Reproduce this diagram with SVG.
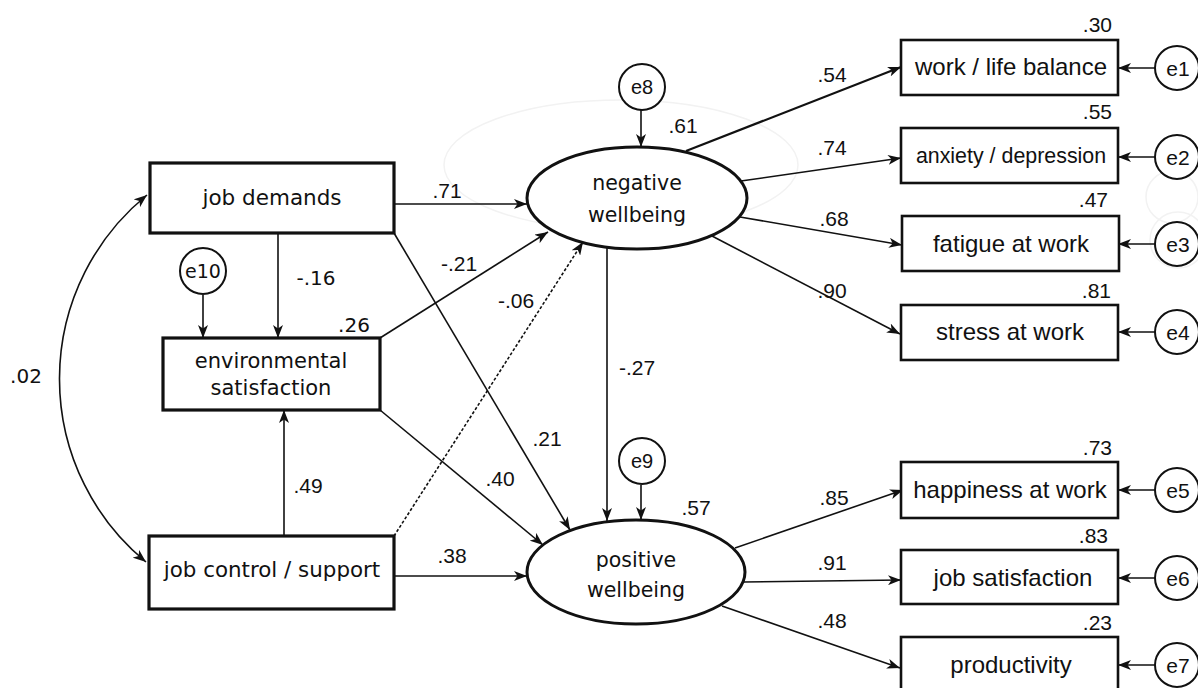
<svg xmlns="http://www.w3.org/2000/svg" width="1198" height="688" viewBox="0 0 1198 688">
<style>
.bx{fill:#fff;stroke:#111;stroke-width:3.2}
.bxr{fill:#fff;stroke:#111;stroke-width:2.6}
.lat{fill:#fff;stroke:#111;stroke-width:3}
.err{fill:#fff;stroke:#111;stroke-width:2}
.ln{fill:none;stroke:#111;stroke-width:1.6;marker-end:url(#ah)}
.dj{font-family:"DejaVu Sans",Verdana,sans-serif;fill:#111}
.ar{font-family:"Liberation Sans",Arial,sans-serif;fill:#111}
.faint{fill:none;stroke:#f2f2f2;stroke-width:1.5}
</style>
<defs>
<marker id="ah" markerUnits="userSpaceOnUse" markerWidth="14" markerHeight="10" refX="13" refY="5" orient="auto-start-reverse">
<path d="M0,0 L13,5 L0,10 L3.5,5 z" fill="#111"/>
</marker>
</defs>
<rect width="1198" height="688" fill="#fff"/>
<g id="faint">
<ellipse class="faint" cx="621" cy="165" rx="177" ry="65"/>
<circle class="faint" cx="1172" cy="197" r="26"/>
<circle class="faint" cx="1178" cy="240" r="28"/>
</g>
<g id="connectors">
<path class="ln" d="M147,195 A237,237 0 0 0 146,562" style="marker-start:url(#ah)"/>
<line class="ln" x1="278" y1="233" x2="278" y2="338"/>
<line class="ln" x1="203" y1="295" x2="203" y2="338"/>
<line class="ln" x1="284" y1="536" x2="284" y2="410"/>
<line class="ln" x1="394" y1="204" x2="527" y2="204"/>
<line class="ln" x1="380" y1="338" x2="548" y2="232"/>
<line class="ln" x1="394" y1="536" x2="583" y2="242" style="stroke-dasharray:3,2"/>
<line class="ln" x1="394" y1="233" x2="570" y2="530"/>
<line class="ln" x1="380" y1="410" x2="543" y2="545"/>
<line class="ln" x1="394" y1="576" x2="527" y2="576"/>
<line class="ln" x1="607" y1="248" x2="607" y2="521"/>
<line class="ln" x1="641" y1="110" x2="641" y2="147"/>
<line class="ln" x1="641" y1="485" x2="641" y2="520"/>
<line class="ln" x1="686" y1="151" x2="901" y2="67" style="stroke-width:2.2"/>
<line class="ln" x1="741" y1="181" x2="901" y2="158"/>
<line class="ln" x1="740" y1="217" x2="902" y2="245"/>
<line class="ln" x1="712" y1="236" x2="900" y2="334"/>
<line class="ln" x1="735" y1="548" x2="903" y2="490"/>
<line class="ln" x1="743" y1="582" x2="901" y2="580"/>
<line class="ln" x1="722" y1="606" x2="900" y2="668"/>
<line class="ln" x1="1155" y1="68" x2="1118" y2="68"/>
<line class="ln" x1="1155" y1="157" x2="1118" y2="157"/>
<line class="ln" x1="1155" y1="244" x2="1118" y2="244"/>
<line class="ln" x1="1155" y1="332" x2="1118" y2="332"/>
<line class="ln" x1="1155" y1="490" x2="1118" y2="490"/>
<line class="ln" x1="1155" y1="578" x2="1118" y2="578"/>
<line class="ln" x1="1155" y1="665" x2="1118" y2="665"/>
</g>
<g id="labels">
<text class="dj" x="26" y="383" font-size="20" text-anchor="middle">.02</text>
<text class="dj" x="316" y="285" font-size="20" text-anchor="middle">-.16</text>
<text class="dj" x="354" y="332" font-size="20" text-anchor="middle">.26</text>
<text class="ar" x="308" y="493" font-size="21" text-anchor="middle">.49</text>
<text class="ar" x="447" y="198" font-size="21" text-anchor="middle">.71</text>
<text class="ar" x="459" y="271" font-size="21" text-anchor="middle">-.21</text>
<text class="ar" x="516" y="308" font-size="21" text-anchor="middle">-.06</text>
<text class="ar" x="547" y="446" font-size="21" text-anchor="middle">.21</text>
<text class="ar" x="500" y="486" font-size="21" text-anchor="middle">.40</text>
<text class="ar" x="452" y="563" font-size="21" text-anchor="middle">.38</text>
<text class="ar" x="637" y="375" font-size="21" text-anchor="middle">-.27</text>
<text class="ar" x="696" y="515" font-size="21" text-anchor="middle">.57</text>
<text class="ar" x="683" y="133" font-size="21" text-anchor="middle">.61</text>
<text class="ar" x="832" y="82" font-size="21" text-anchor="middle">.54</text>
<text class="ar" x="832" y="155" font-size="21" text-anchor="middle">.74</text>
<text class="ar" x="834" y="226" font-size="21" text-anchor="middle">.68</text>
<text class="ar" x="832" y="298" font-size="21" text-anchor="middle">.90</text>
<text class="ar" x="834" y="505" font-size="21" text-anchor="middle">.85</text>
<text class="ar" x="832" y="570" font-size="21" text-anchor="middle">.91</text>
<text class="ar" x="832" y="628" font-size="21" text-anchor="middle">.48</text>
<text class="ar" x="1112" y="32" font-size="21" text-anchor="end">.30</text>
<text class="ar" x="1112" y="119" font-size="21" text-anchor="end">.55</text>
<text class="ar" x="1108" y="207" font-size="21" text-anchor="end">.47</text>
<text class="ar" x="1111" y="298" font-size="21" text-anchor="end">.81</text>
<text class="ar" x="1112" y="455" font-size="21" text-anchor="end">.73</text>
<text class="ar" x="1108" y="543" font-size="21" text-anchor="end">.83</text>
<text class="ar" x="1112" y="630" font-size="21" text-anchor="end">.23</text>
</g>
<g id="job-demands">
<rect class="bx" x="150" y="163" width="244" height="70"/>
<text class="dj" x="272" y="205" font-size="21.5" text-anchor="middle">job demands</text>
</g>
<g id="environmental-satisfaction">
<rect class="bx" x="163" y="338" width="217" height="72"/>
<text class="dj" x="271" y="368" font-size="21" text-anchor="middle">environmental</text>
<text class="dj" x="271" y="395" font-size="21" text-anchor="middle">satisfaction</text>
</g>
<g id="job-control-support">
<rect class="bx" x="149" y="536" width="245" height="73"/>
<text class="dj" x="272" y="577" font-size="21.4" text-anchor="middle">job control / support</text>
</g>
<g id="e10">
<circle class="err" cx="203" cy="271" r="23"/>
<text class="dj" x="203" y="278" font-size="19" text-anchor="middle">e10</text>
</g>
<g id="negative-wellbeing">
<ellipse class="lat" cx="637" cy="198" rx="110" ry="51"/>
<text class="dj" x="637" y="190" font-size="20.5" text-anchor="middle">negative</text>
<text class="dj" x="637" y="222" font-size="20.5" text-anchor="middle">wellbeing</text>
</g>
<g id="positive-wellbeing">
<ellipse class="lat" cx="636" cy="572" rx="109" ry="52"/>
<text class="dj" x="636" y="567" font-size="20.5" text-anchor="middle">positive</text>
<text class="dj" x="636" y="597" font-size="20.5" text-anchor="middle">wellbeing</text>
</g>
<g id="e8">
<circle class="err" cx="642" cy="87" r="23"/>
<text class="ar" x="642" y="94" font-size="20" text-anchor="middle">e8</text>
</g>
<g id="e9">
<circle class="err" cx="642" cy="461" r="23"/>
<text class="ar" x="642" y="468" font-size="20" text-anchor="middle">e9</text>
</g>
<g id="work-life-balance">
<rect class="bxr" x="901" y="40" width="217" height="55"/>
<text class="ar" x="1011" y="75" font-size="24" text-anchor="middle">work / life balance</text>
</g>
<g id="anxiety-depression">
<rect class="bxr" x="901" y="128" width="217" height="55"/>
<text class="ar" x="1011" y="163" font-size="21.4" text-anchor="middle">anxiety / depression</text>
</g>
<g id="fatigue-at-work">
<rect class="bxr" x="902" y="216" width="217" height="55"/>
<text class="ar" x="1011" y="252" font-size="24" text-anchor="middle">fatigue at work</text>
</g>
<g id="stress-at-work">
<rect class="bxr" x="901" y="305" width="217" height="55"/>
<text class="ar" x="1010" y="340" font-size="24" text-anchor="middle">stress at work</text>
</g>
<g id="happiness-at-work">
<rect class="bxr" x="901" y="462" width="217" height="56"/>
<text class="ar" x="1010" y="498" font-size="24" text-anchor="middle">happiness at work</text>
</g>
<g id="job-satisfaction">
<rect class="bxr" x="901" y="550" width="217" height="54"/>
<text class="ar" x="1013" y="586" font-size="24" text-anchor="middle">job satisfaction</text>
</g>
<g id="productivity">
<rect class="bxr" x="901" y="637" width="217" height="56"/>
<text class="ar" x="1011" y="673" font-size="24" text-anchor="middle">productivity</text>
</g>
<g id="e1"><circle class="err" cx="1177" cy="68" r="22"/><text class="ar" x="1178" y="76" font-size="21" text-anchor="middle">e1</text></g>
<g id="e2"><circle class="err" cx="1177" cy="157" r="22"/><text class="ar" x="1178" y="165" font-size="21" text-anchor="middle">e2</text></g>
<g id="e3"><circle class="err" cx="1177" cy="244" r="22"/><text class="ar" x="1178" y="252" font-size="21" text-anchor="middle">e3</text></g>
<g id="e4"><circle class="err" cx="1177" cy="332" r="22"/><text class="ar" x="1178" y="340" font-size="21" text-anchor="middle">e4</text></g>
<g id="e5"><circle class="err" cx="1177" cy="490" r="22"/><text class="ar" x="1178" y="498" font-size="21" text-anchor="middle">e5</text></g>
<g id="e6"><circle class="err" cx="1177" cy="578" r="22"/><text class="ar" x="1178" y="586" font-size="21" text-anchor="middle">e6</text></g>
<g id="e7"><circle class="err" cx="1177" cy="665" r="22"/><text class="ar" x="1178" y="673" font-size="21" text-anchor="middle">e7</text></g>
</svg>
